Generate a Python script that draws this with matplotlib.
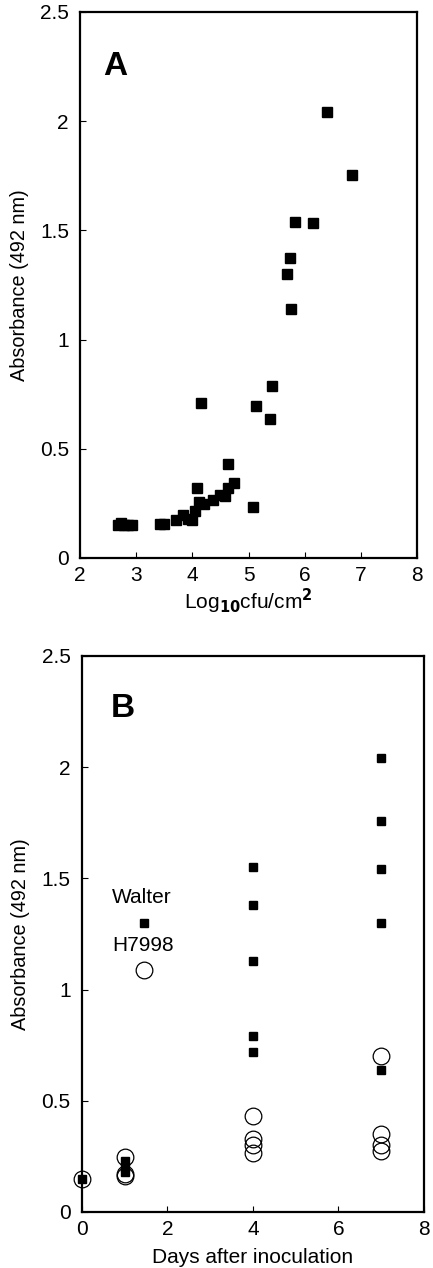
import matplotlib
matplotlib.use('Agg')
from matplotlib import pyplot as plt
import numpy as np

plt.rcParams['font.family'] = ['Liberation Sans', 'DejaVu Sans']

# Panel A: absorbance vs log10 cfu/cm2
log_cfu = [2.68, 2.72, 2.78, 2.85, 2.93, 3.43, 3.50, 3.70, 3.83, 3.93, 3.99,
           4.05, 4.09, 4.12, 4.20, 4.15, 4.37, 4.49, 4.58, 4.63, 4.64, 4.74,
           5.08, 5.13, 5.38, 5.41, 5.69, 5.73, 5.75, 5.82, 6.15, 6.40, 6.85]
absorb_a = [0.15, 0.16, 0.15, 0.15, 0.15, 0.155, 0.155, 0.175, 0.195, 0.18, 0.175,
            0.215, 0.32, 0.255, 0.245, 0.71, 0.265, 0.29, 0.285, 0.32, 0.43, 0.345,
            0.235, 0.695, 0.635, 0.785, 1.30, 1.375, 1.14, 1.54, 1.535, 2.04, 1.755]

# Panel B: absorbance vs days after inoculation
walter_days = [0, 1, 1, 1, 4, 4, 4, 4, 4, 7, 7, 7, 7, 7]
walter_abs = [0.15, 0.23, 0.20, 0.18, 1.55, 1.38, 1.13, 0.79, 0.72,
              2.04, 1.76, 1.54, 1.30, 0.64]
h7998_days = [0, 1, 1, 1, 4, 4, 4, 4, 7, 7, 7, 7]
h7998_abs = [0.15, 0.245, 0.17, 0.16, 0.43, 0.33, 0.30, 0.265,
             0.70, 0.35, 0.30, 0.275]

yticks = [0, 0.5, 1, 1.5, 2, 2.5]
ytick_labels = ['0', '0.5', '1', '1.5', '2', '2.5']

fig = plt.figure(figsize=(4.33, 12.68), dpi=100)

ax1 = fig.add_axes([0.185, 0.560, 0.778, 0.4306])
ax2 = fig.add_axes([0.189, 0.0442, 0.790, 0.4385])

# panel A
ax1.plot(log_cfu, absorb_a, 's', color='black', markersize=6.5, clip_on=False)
ax1.set_xlim(2, 8)
ax1.set_ylim(0, 2.5)
ax1.set_xticks([2, 3, 4, 5, 6, 7, 8])
ax1.set_yticks(yticks)
ax1.set_yticklabels(ytick_labels)
ax1.set_xlabel('Log$_{\\mathbf{10}}$cfu/cm$^{\\mathbf{2}}$', fontsize=15, labelpad=1)
ax1.set_ylabel('Absorbance (492 nm)', fontsize=14.3, labelpad=8)
ax1.text(0.068, 0.90, 'A', transform=ax1.transAxes, fontsize=24,
         fontweight='bold', va='center')

# panel B
ax2.plot(walter_days, walter_abs, 's', color='black', markersize=6,
         clip_on=False, zorder=3)
ax2.plot(h7998_days, h7998_abs, 'o', markerfacecolor='none', markeredgecolor='black',
         markeredgewidth=0.9, markersize=12, clip_on=False, zorder=3)
ax2.set_xlim(0, 8)
ax2.set_ylim(0, 2.5)
ax2.set_xticks([0, 2, 4, 6, 8])
ax2.set_yticks(yticks)
ax2.set_yticklabels(ytick_labels)
ax2.set_xlabel('Days after inoculation', fontsize=15, labelpad=6)
ax2.set_ylabel('Absorbance (492 nm)', fontsize=14.3, labelpad=8)
ax2.text(0.085, 0.906, 'B', transform=ax2.transAxes, fontsize=24,
         fontweight='bold', va='center')

# legend drawn by hand: label above each marker
ax2.text(0.088, 0.565, 'Walter', transform=ax2.transAxes, fontsize=15, va='center')
ax2.plot([0.181], [0.520], 's', color='black', markersize=6, transform=ax2.transAxes)
ax2.text(0.088, 0.48, 'H7998', transform=ax2.transAxes, fontsize=15, va='center')
ax2.plot([0.181], [0.435], 'o', markerfacecolor='none', markeredgecolor='black',
         markeredgewidth=0.9, markersize=12, transform=ax2.transAxes)

for ax in (ax1, ax2):
    for s in ax.spines.values():
        s.set_linewidth(1.6)
    ax.tick_params(direction='in', length=4, width=0.8, labelsize=15)
    ax.tick_params(axis='x', pad=6)
    ax.tick_params(axis='y', pad=8)

plt.savefig('out.png', dpi=100)
